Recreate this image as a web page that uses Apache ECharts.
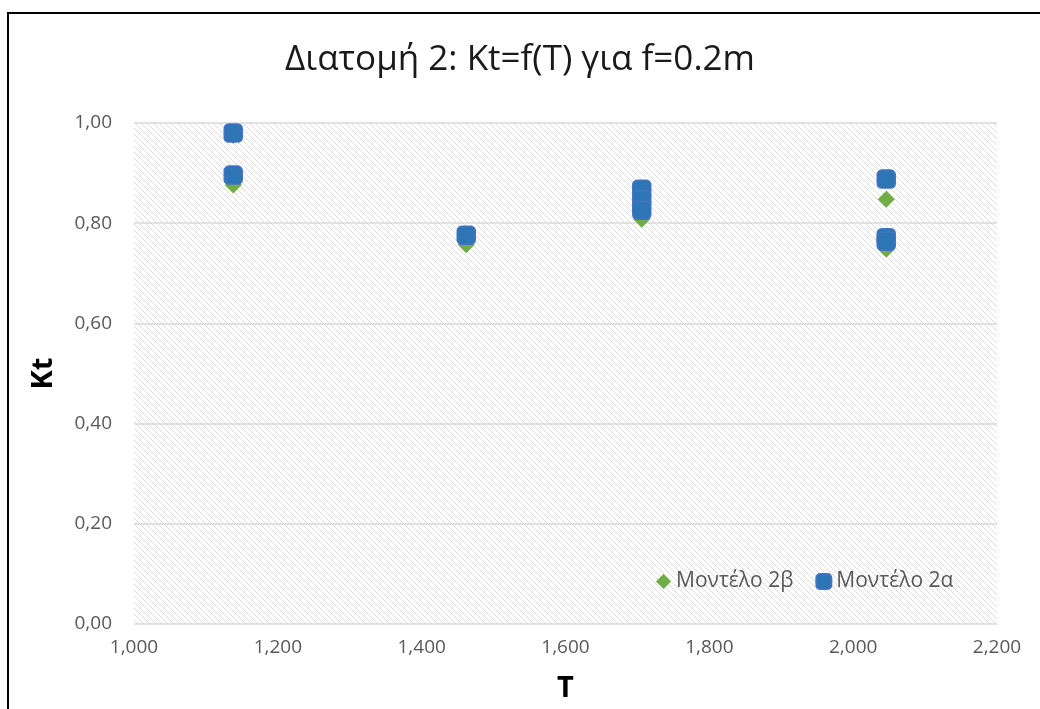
<!DOCTYPE html>
<html><head><meta charset="utf-8">
<script src="https://cdn.jsdelivr.net/npm/echarts@6/dist/echarts.min.js"></script>
<style>
html,body{margin:0;padding:0;background:#fff;}
#frame{position:absolute;left:7px;top:12px;width:1040px;height:709px;border:2px solid #000;box-sizing:border-box;border-right:none;border-bottom:none;}
#c{position:absolute;left:0;top:0;width:1040px;height:709px;}
</style></head>
<body>
<div id="c"></div>
<div id="frame"></div>
<script>
const titleText = 'Διατομή 2: Kt=f(T) για f=0.2m';
const seriesNames = ['Μοντέλο 2β', 'Μοντέλο 2α'];
const tValues2b = [1138, 1138, 1462, 1706, 1706, 1706, 2046, 2046];
const kt2b      = [0.975, 0.876, 0.757, 0.808, 0.830, 0.850, 0.848, 0.748];
const tValues2a = [1138, 1138, 1462, 1706, 1706, 1706, 2046, 2046, 2046];
const kt2a      = [0.980, 0.896, 0.776, 0.868, 0.847, 0.826, 0.888, 0.771, 0.764];
const xTicks = [1000, 1200, 1400, 1600, 1800, 2000, 2200];
const yTicks = [0, 0.2, 0.4, 0.6, 0.8, 1.0];

const tile = document.createElement('canvas');
tile.width = 6; tile.height = 6;
const tc = tile.getContext('2d');
tc.fillStyle = '#ffffff'; tc.fillRect(0,0,6,6);
tc.strokeStyle = '#dcdcdc'; tc.lineWidth = 1;
[-6,0,6].forEach(o=>{tc.beginPath(); tc.moveTo(o-1,-1); tc.lineTo(o+7,7); tc.stroke();});

const font = '"Open Sans", Lato, sans-serif';
const chart = echarts.init(document.getElementById('c'), null, {renderer:'canvas'});
chart.setOption({
  animation:false,
  backgroundColor:'#fff',
  title:{text:titleText,left:'center',top:38,textStyle:{fontFamily:font,fontSize:35,fontWeight:'normal',color:'#1a1a1a'}},
  grid:{left:134,right:43,top:123,bottom:85,show:true,borderWidth:0,backgroundColor:{image:tile,repeat:'repeat'}},
  legend:{left:651,top:566,itemGap:22,itemWidth:15,itemHeight:15,
    textStyle:{fontFamily:font,fontSize:21,color:'#595959'},
    data:[{name:seriesNames[0],icon:'diamond',itemStyle:{opacity:1}},{name:seriesNames[1],icon:'roundRect',itemStyle:{opacity:1}}]},
  xAxis:{type:'value',min:xTicks[0],max:xTicks[xTicks.length-1],interval:200,
    name:'T',nameLocation:'middle',nameGap:50,
    nameTextStyle:{fontFamily:font,fontSize:29,fontWeight:'bold',color:'#000'},
    axisLine:{show:false},axisTick:{show:false},splitLine:{show:false},
    axisLabel:{fontFamily:font,fontSize:19,color:'#595959',margin:14,
      formatter:v=>(v/1000).toFixed(3).replace('.',',')}},
  yAxis:{type:'value',min:yTicks[0],max:yTicks[yTicks.length-1],interval:0.2,
    name:'Kt',nameLocation:'middle',nameGap:76,
    nameTextStyle:{fontFamily:font,fontSize:29,fontWeight:'bold',color:'#000'},
    axisLine:{show:false},axisTick:{show:false},
    splitLine:{lineStyle:{color:'#d9d9d9',width:1.5}},
    axisLabel:{fontFamily:font,fontSize:19,color:'#595959',margin:22,
      formatter:v=>v.toFixed(2).replace('.',',')}},
  series:[
    {name:seriesNames[0],type:'scatter',symbol:'diamond',symbolSize:17,
     itemStyle:{color:'#70AD47',opacity:1},data:tValues2b.map((t,i)=>[t,kt2b[i]])},
    {name:seriesNames[1],type:'scatter',symbol:'roundRect',symbolSize:18,
     itemStyle:{color:'#2E75B6',borderColor:'#4472C4',borderWidth:1.5,opacity:1},data:tValues2a.map((t,i)=>[t,kt2a[i]])}
  ]
});
</script>
</body></html>
